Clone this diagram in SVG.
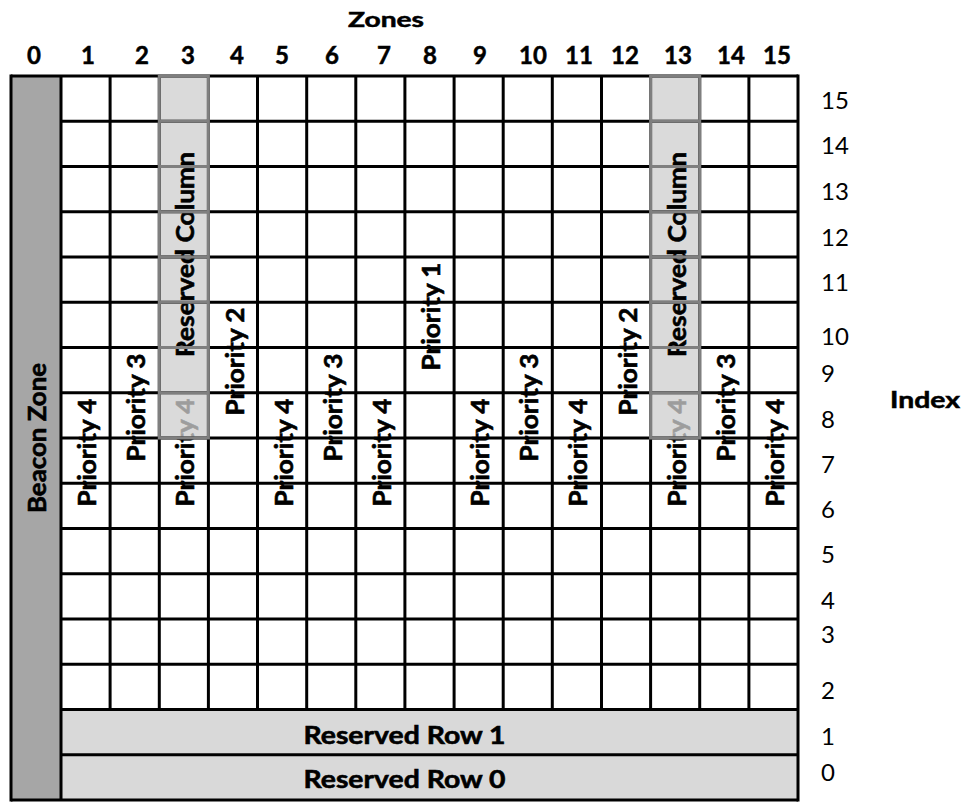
<svg xmlns="http://www.w3.org/2000/svg" width="967" height="802" viewBox="0 0 967 802">
<style>
  text { font-family: "Lato", "Carlito", "Liberation Sans", sans-serif; fill: #000; }
  .b { font-weight: bold; stroke: #000; stroke-width: 0.5; }
  .hdr { font-size: 24px; font-weight: bold; text-anchor: middle; stroke: #000; stroke-width: 0.5; }
  .idx { font-size: 24px; text-anchor: start; }
  .big { font-size: 25px; font-weight: bold; text-anchor: middle; stroke: #000; stroke-width: 0.6; }
  .grid line { stroke: #000; stroke-width: 3; }
  .gray line, .gray rect { stroke: #7f7f7f; stroke-width: 3; fill: none; }
  .resfill { fill: #d9d9d9; }
</style>
<rect x="0" y="0" width="967" height="802" fill="#fff"/>

<g id="titles">
  <text class="b" x="386" y="27" font-size="20" text-anchor="middle" textLength="76" lengthAdjust="spacingAndGlyphs">Zones</text>
  <text class="b" x="890" y="408" font-size="22" textLength="70" lengthAdjust="spacingAndGlyphs">Index</text>
</g>

<g id="zone-labels">
  <text class="hdr" x="34" y="64">0</text>
  <text class="hdr" x="88" y="64">1</text>
  <text class="hdr" x="142" y="64">2</text>
  <text class="hdr" x="188" y="64">3</text>
  <text class="hdr" x="237" y="64">4</text>
  <text class="hdr" x="282" y="64">5</text>
  <text class="hdr" x="332" y="64">6</text>
  <text class="hdr" x="384" y="64">7</text>
  <text class="hdr" x="430" y="64">8</text>
  <text class="hdr" x="480" y="64">9</text>
  <text class="hdr" x="533" y="64">10</text>
  <text class="hdr" x="579" y="64">11</text>
  <text class="hdr" x="625" y="64">12</text>
  <text class="hdr" x="678" y="64">13</text>
  <text class="hdr" x="731" y="64">14</text>
  <text class="hdr" x="777" y="64">15</text>
</g>

<g id="index-labels">
  <text class="idx" x="821" y="109">15</text>
  <text class="idx" x="821" y="154">14</text>
  <text class="idx" x="821" y="200">13</text>
  <text class="idx" x="821" y="246">12</text>
  <text class="idx" x="821" y="291">11</text>
  <text class="idx" x="821" y="345">10</text>
  <text class="idx" x="821" y="382">9</text>
  <text class="idx" x="821" y="428">8</text>
  <text class="idx" x="821" y="473">7</text>
  <text class="idx" x="821" y="518">6</text>
  <text class="idx" x="821" y="563">5</text>
  <text class="idx" x="821" y="609">4</text>
  <text class="idx" x="821" y="643">3</text>
  <text class="idx" x="821" y="699">2</text>
  <text class="idx" x="821" y="745">1</text>
  <text class="idx" x="821" y="781">0</text>
</g>

<!-- base fills -->
<g id="reserved-column-3-base"><rect class="resfill" x="159.3" y="76" width="49.1" height="362"/></g>
<g id="reserved-column-13-base"><rect class="resfill" x="650.6" y="76" width="49.1" height="362"/></g>

<g id="reserved-row-1">
  <rect class="resfill" x="61" y="709.5" width="737" height="45.25"/>
  <text class="big" x="404.5" y="744" textLength="202" lengthAdjust="spacingAndGlyphs">Reserved Row 1</text>
</g>
<g id="reserved-row-0">
  <rect class="resfill" x="61" y="754.75" width="737" height="45.25"/>
  <text class="big" x="404.5" y="788" textLength="202" lengthAdjust="spacingAndGlyphs">Reserved Row 0</text>
</g>

<g id="beacon-zone">
  <rect x="11" y="76" width="50" height="724" fill="#a6a6a6"/>
  <text class="big" transform="translate(46,438) rotate(-90)" textLength="150" lengthAdjust="spacingAndGlyphs">Beacon Zone</text>
</g>

<g id="priorities">
  <text class="big" transform="translate(96.1,452.5) rotate(-90)" textLength="108" lengthAdjust="spacingAndGlyphs">Priority 4</text>
  <text class="big" transform="translate(145.2,407.5) rotate(-90)" textLength="108" lengthAdjust="spacingAndGlyphs">Priority 3</text>
  <text class="big" transform="translate(194.3,452.5) rotate(-90)" textLength="108" lengthAdjust="spacingAndGlyphs">Priority 4</text>
  <text class="big" transform="translate(243.5,361.5) rotate(-90)" textLength="108" lengthAdjust="spacingAndGlyphs">Priority 2</text>
  <text class="big" transform="translate(292.6,452.5) rotate(-90)" textLength="108" lengthAdjust="spacingAndGlyphs">Priority 4</text>
  <text class="big" transform="translate(341.7,407.5) rotate(-90)" textLength="108" lengthAdjust="spacingAndGlyphs">Priority 3</text>
  <text class="big" transform="translate(390.9,452.5) rotate(-90)" textLength="108" lengthAdjust="spacingAndGlyphs">Priority 4</text>
  <text class="big" transform="translate(440,316.5) rotate(-90)" textLength="108" lengthAdjust="spacingAndGlyphs">Priority 1</text>
  <text class="big" transform="translate(489.1,452.5) rotate(-90)" textLength="108" lengthAdjust="spacingAndGlyphs">Priority 4</text>
  <text class="big" transform="translate(538.3,407.5) rotate(-90)" textLength="108" lengthAdjust="spacingAndGlyphs">Priority 3</text>
  <text class="big" transform="translate(587.4,452.5) rotate(-90)" textLength="108" lengthAdjust="spacingAndGlyphs">Priority 4</text>
  <text class="big" transform="translate(636.5,361.5) rotate(-90)" textLength="108" lengthAdjust="spacingAndGlyphs">Priority 2</text>
  <text class="big" transform="translate(685.7,452.5) rotate(-90)" textLength="108" lengthAdjust="spacingAndGlyphs">Priority 4</text>
  <text class="big" transform="translate(734.8,407.5) rotate(-90)" textLength="108" lengthAdjust="spacingAndGlyphs">Priority 3</text>
  <text class="big" transform="translate(783.9,452.5) rotate(-90)" textLength="108" lengthAdjust="spacingAndGlyphs">Priority 4</text>
</g>

<g id="reserved-column-3">
  <rect x="159.3" y="76" width="49.1" height="362" fill="#d9d9d9" fill-opacity="0.72"/>
  <text class="big" transform="translate(194.3,254.5) rotate(-90)" textLength="205" lengthAdjust="spacingAndGlyphs">Reserved Column</text>
</g>
<g id="reserved-column-13">
  <rect x="650.6" y="76" width="49.1" height="362" fill="#d9d9d9" fill-opacity="0.72"/>
  <text class="big" transform="translate(685.7,254.5) rotate(-90)" textLength="205" lengthAdjust="spacingAndGlyphs">Reserved Column</text>
</g>

<g id="connectors" class="grid">
  <line x1="61" y1="76" x2="61" y2="800"/>
  <line x1="110.1" y1="76" x2="110.1" y2="709.5"/>
  <line x1="159.3" y1="76" x2="159.3" y2="709.5"/>
  <line x1="208.4" y1="76" x2="208.4" y2="709.5"/>
  <line x1="257.5" y1="76" x2="257.5" y2="709.5"/>
  <line x1="306.7" y1="76" x2="306.7" y2="709.5"/>
  <line x1="355.8" y1="76" x2="355.8" y2="709.5"/>
  <line x1="404.9" y1="76" x2="404.9" y2="709.5"/>
  <line x1="454.1" y1="76" x2="454.1" y2="709.5"/>
  <line x1="503.2" y1="76" x2="503.2" y2="709.5"/>
  <line x1="552.3" y1="76" x2="552.3" y2="709.5"/>
  <line x1="601.5" y1="76" x2="601.5" y2="709.5"/>
  <line x1="650.6" y1="76" x2="650.6" y2="709.5"/>
  <line x1="699.7" y1="76" x2="699.7" y2="709.5"/>
  <line x1="748.9" y1="76" x2="748.9" y2="709.5"/>
  <line x1="61" y1="121.25" x2="798" y2="121.25"/>
  <line x1="61" y1="166.5" x2="798" y2="166.5"/>
  <line x1="61" y1="211.75" x2="798" y2="211.75"/>
  <line x1="61" y1="257" x2="798" y2="257"/>
  <line x1="61" y1="302.25" x2="798" y2="302.25"/>
  <line x1="61" y1="347.5" x2="798" y2="347.5"/>
  <line x1="61" y1="392.75" x2="798" y2="392.75"/>
  <line x1="61" y1="438" x2="798" y2="438"/>
  <line x1="61" y1="483.25" x2="798" y2="483.25"/>
  <line x1="61" y1="528.5" x2="798" y2="528.5"/>
  <line x1="61" y1="573.75" x2="798" y2="573.75"/>
  <line x1="61" y1="619" x2="798" y2="619"/>
  <line x1="61" y1="664.25" x2="798" y2="664.25"/>
  <line x1="61" y1="709.5" x2="798" y2="709.5"/>
  <line x1="61" y1="754.75" x2="798" y2="754.75"/>
  <line x1="11" y1="76" x2="798" y2="76"/>
  <line x1="11" y1="800" x2="798" y2="800"/>
  <line x1="11" y1="74.5" x2="11" y2="801.5"/>
  <line x1="798" y1="74.5" x2="798" y2="801.5"/>
</g>

<g id="reserved-column-lines" class="gray">
  <rect x="159.3" y="76" width="49.1" height="362"/>
  <line x1="159.3" y1="121.25" x2="208.4" y2="121.25"/>
  <line x1="159.3" y1="166.5" x2="208.4" y2="166.5"/>
  <line x1="159.3" y1="211.75" x2="208.4" y2="211.75"/>
  <line x1="159.3" y1="257" x2="208.4" y2="257"/>
  <line x1="159.3" y1="302.25" x2="208.4" y2="302.25"/>
  <line x1="159.3" y1="347.5" x2="208.4" y2="347.5"/>
  <line x1="159.3" y1="392.75" x2="208.4" y2="392.75"/>
  <rect x="650.6" y="76" width="49.1" height="362"/>
  <line x1="650.6" y1="121.25" x2="699.7" y2="121.25"/>
  <line x1="650.6" y1="166.5" x2="699.7" y2="166.5"/>
  <line x1="650.6" y1="211.75" x2="699.7" y2="211.75"/>
  <line x1="650.6" y1="257" x2="699.7" y2="257"/>
  <line x1="650.6" y1="302.25" x2="699.7" y2="302.25"/>
  <line x1="650.6" y1="347.5" x2="699.7" y2="347.5"/>
  <line x1="650.6" y1="392.75" x2="699.7" y2="392.75"/>
</g>
</svg>
